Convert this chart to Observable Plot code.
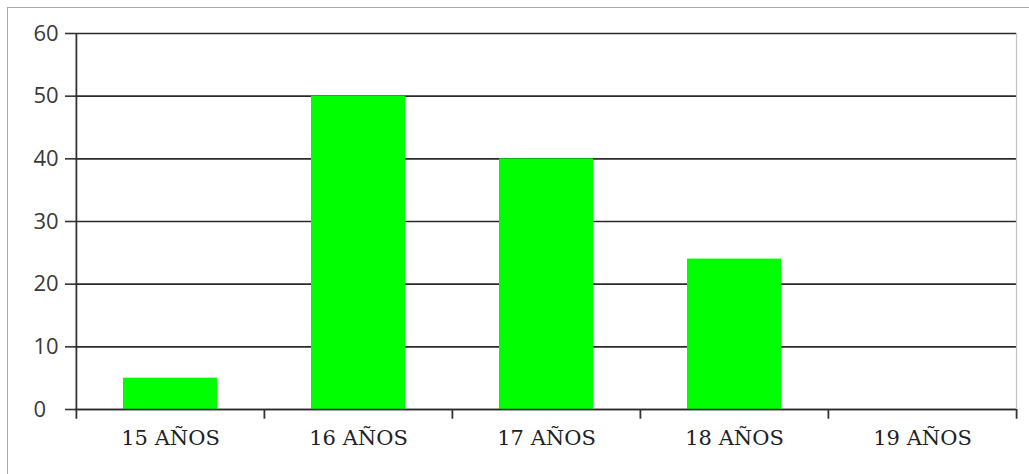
<!DOCTYPE html>
<html><head><meta charset="utf-8">
<script src="https://cdn.jsdelivr.net/npm/d3@7"></script>
<script src="https://cdn.jsdelivr.net/npm/@observablehq/plot@0.6"></script>
<style>
body{margin:0;background:#fff;}
#wrap{position:relative;width:1029px;height:474px;overflow:hidden;background:#fff;}
#border{position:absolute;left:7px;top:7px;width:1100px;height:600px;border:1px solid #a9a9a9;}
#chart{position:absolute;left:0;top:0;}
</style></head><body>
<div id="wrap"><div id="border"></div><div id="chart"></div></div>
<script>
const categories = ["15 AÑOS", "16 AÑOS", "17 AÑOS", "18 AÑOS", "19 AÑOS"];
const values = [5, 50, 40, 24, 0];
const yTicks = [0, 10, 20, 30, 40, 50, 60];

const data = categories.map((c, i) => ({cat: c, value: values[i]}));
const W = 1029, H = 474, ML = 75, MR = 13, MT = 33, MB = 65;
const step = (W - ML - MR) / categories.length;
const tickDown = -1.55; // tick marks hang just below the zero line

const chart = Plot.plot({
  width: W, height: H,
  marginLeft: ML, marginRight: MR, marginTop: MT, marginBottom: MB,
  style: {background: "transparent", overflow: "visible"},
  x: {domain: categories, paddingInner: 0.5, paddingOuter: 0.25, label: null},
  y: {domain: [0, 60], label: null},
  marks: [
    Plot.ruleY(yTicks, {stroke: "#2a2a2a", strokeWidth: 1.6}),
    Plot.barY(data, {x: "cat", y: "value", fill: "#00ff00"}),
    Plot.ruleY([0], {stroke: "#2a2a2a", strokeWidth: 1.6}),
    Plot.frame({anchor: "right", stroke: "#c4c4c4", strokeWidth: 1.2}),
    Plot.ruleX([categories[0]], {x: d => d, y1: tickDown, y2: 60, dx: -step / 2, stroke: "#333", strokeWidth: 1.8}),
    Plot.ruleX(categories.slice(1), {x: d => d, y1: tickDown, y2: 0, dx: -step / 2, stroke: "#333", strokeWidth: 1.8}),
    Plot.ruleX([categories[categories.length - 1]], {x: d => d, y1: tickDown, y2: 0, dx: step / 2, stroke: "#333", strokeWidth: 1.8}),
    Plot.axisY(yTicks, {tickSize: 10, tickPadding: 32, textAnchor: "start", stroke: "#333", strokeWidth: 1.6, fill: "#3a3a3a",
      fontSize: 22, fontFamily: "Open Sans"}),
    Plot.axisX({tickSize: 0, tickPadding: 21, fill: "#222", fontSize: 21, fontFamily: "DejaVu Serif"})
  ]
});
document.getElementById("chart").appendChild(chart);
</script>
</body></html>
